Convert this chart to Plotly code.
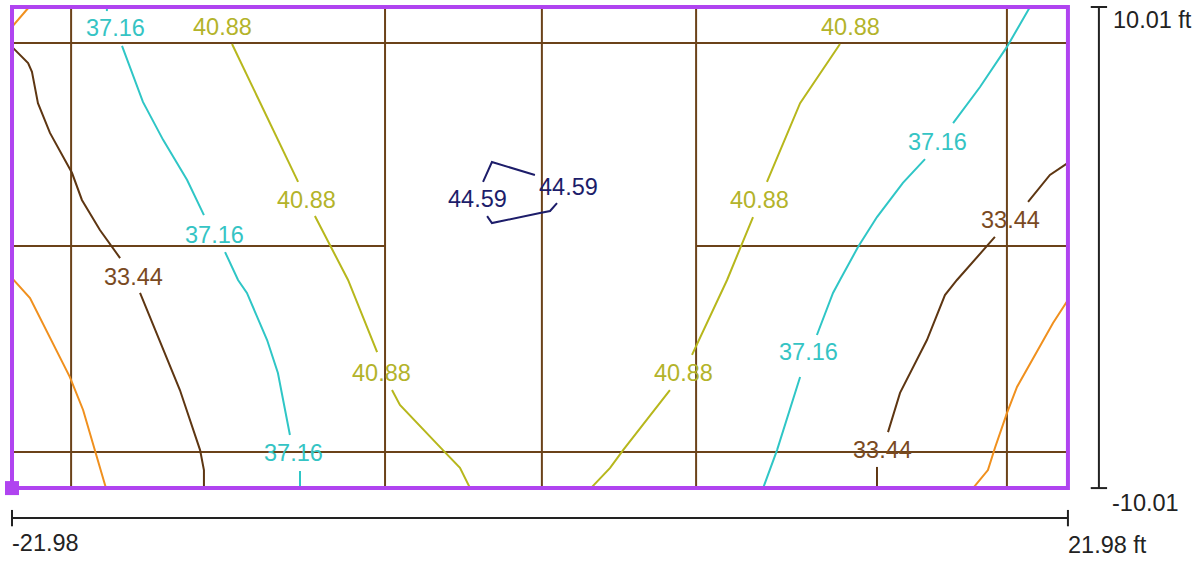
import plotly.graph_objects as go

# ---- extents (ft) ----
x_min, x_max = -21.98, 21.98
y_min, y_max = -10.01, 10.01

# ---- grid lines (ft) ----
grid_x = [-19.52, -6.45, 0.08, 6.50, 19.44]
grid_y_full = [8.51, -8.51]
grid_y_mid = 0.06
grid_y_mid_segments = [(-21.98, -6.45), (6.50, 21.98)]

# ---- contour levels ----
levels = ["29.72", "33.44", "37.16", "40.88", "44.59"]
level_colors = ["#F0901E", "#5E3612", "#2FC6C6", "#B7B71C", "#1D1D6A"]
label_colors = ["#F0901E", "#7A4A1F", "#35C4C4", "#B3B32A", "#1D1D6A"]

# 29.72 (orange)
c1_x = [-21.98, -21.27, None,
        -21.98, -21.23, -19.57, -19.02, -18.07, None,
        21.98, 21.36, 19.86, 19.44, 18.94, 18.65, 18.03]
c1_y = [9.18, 10.01, None,
        -1.27, -2.10, -5.39, -6.76, -10.01, None,
        -2.18, -3.14, -5.80, -6.89, -8.34, -9.26, -10.01]

# 33.44 (dark brown)
c2_x = [-21.98, -21.31, -21.15, -20.90, -20.40, -19.48, -19.07, -18.32, -17.48, None,
        -16.65, -14.99, -14.15, -13.99, -13.99, None,
        21.98, 21.23, 20.32, None,
        18.94, 17.36, 16.86, 16.11, 14.99, 14.49, None,
        14.03, 14.03]
c2_y = [8.35, 7.68, 7.31, 6.01, 4.77, 3.10, 1.98, 0.73, -0.44, None,
        -1.89, -5.93, -8.43, -9.26, -10.01, None,
        3.52, 3.02, 1.90, None,
        0.44, -1.35, -1.98, -3.85, -6.05, -7.68, None,
        -9.13, -10.01]

# 37.16 (cyan)
c3_x = [-18.03, -18.03, None,
        -17.40, -16.53, -15.69, -14.69, -13.99, None,
        -13.11, -12.57, -12.20, -11.36, -10.91, -10.41, None,
        -9.99, -9.99, None,
        20.40, 19.44, 18.32, 17.20, None,
        16.03, 15.11, 14.03, 13.24, 12.49, 12.20, 11.53, None,
        10.83, 9.87, 9.29]
c3_y = [10.01, 9.84, None,
        8.39, 6.06, 4.48, 2.81, 1.35, None,
        -0.19, -1.35, -1.89, -3.85, -5.22, -7.80, None,
        -9.30, -10.01, None,
        10.01, 8.35, 6.68, 5.18, None,
        3.68, 2.69, 1.27, 0.02, -1.35, -1.89, -3.64, None,
        -5.39, -8.43, -10.01]

# 40.88 (olive)
c4_x = [-12.82, -10.07, None,
        -9.37, -7.99, -6.78, None,
        -6.16, -5.83, -4.04, -3.33, -2.91, None,
        2.12, 2.92, 3.46, 5.41, None,
        6.33, 7.79, 8.87, None,
        9.45, 10.83, 12.49]
c4_y = [8.47, 2.73, None,
        1.31, -1.35, -4.35, None,
        -5.93, -6.55, -8.43, -9.17, -10.01, None,
        -10.01, -9.17, -8.43, -5.93, None,
        -4.47, -1.35, 1.27, None,
        2.73, 6.01, 8.47]

# 44.59 (navy)
c5_x = [-2.37, -2.00, -0.21, None,
        -2.20, -2.00, 0.00, 0.42, 0.71]
c5_y = [2.73, 3.56, 3.02, None,
        1.31, 1.02, 1.44, 1.52, 1.85]

contour_x = [c1_x, c2_x, c3_x, c4_x, c5_x]
contour_y = [c1_y, c2_y, c3_y, c4_y, c5_y]

# ---- contour labels ----
lab_level = [1, 1, 1, 2, 2, 2, 2, 2, 3, 3, 3, 3, 3, 3, 4, 4]
lab_x = [-16.94, 19.57, 14.24,
         -17.69, -13.53, -10.28, 16.57, 11.16,
         -13.20, -9.70, -6.58, 5.96, 9.16, 12.91,
         -2.62, 1.17]
lab_y = [-1.23, 1.15, -8.43,
         9.14, 0.52, -8.55, 4.39, -4.35,
         9.18, 1.98, -5.22, -5.22, 1.98, 9.18,
         2.02, 2.52]

# ---- dimension labels ----
dim_text_x = ["-21.98", "21.98 ft"]
dim_text_y = ["10.01 ft", "-10.01"]

# style constants
FONT = "Liberation Sans, Arial, sans-serif"
FS = 23.5
GRID_COLOR = "#6B4219"
BORDER_COLOR = "#B044F0"
DIM_COLOR = "#222222"
dim_off_y = -11.26   # bottom dimension line
dim_off_x = 23.27    # right dimension line
tick_half = 0.34

fig = go.Figure()

# grid
gx, gy = [], []
for x in grid_x:
    gx += [x, x, None]
    gy += [y_min, y_max, None]
for y in grid_y_full:
    gx += [x_min, x_max, None]
    gy += [y, y, None]
for a, b in grid_y_mid_segments:
    gx += [a, b, None]
    gy += [grid_y_mid, grid_y_mid, None]
fig.add_trace(go.Scatter(x=gx, y=gy, mode="lines",
                         line=dict(color=GRID_COLOR, width=2),
                         hoverinfo="skip", showlegend=False))

# contours
for i in range(len(levels)):
    fig.add_trace(go.Scatter(x=contour_x[i], y=contour_y[i], mode="lines",
                             line=dict(color=level_colors[i], width=2),
                             name=levels[i], showlegend=False))

# border
fig.add_trace(go.Scatter(x=[x_min, x_max, x_max, x_min, x_min],
                         y=[y_min, y_min, y_max, y_max, y_min],
                         mode="lines", line=dict(color=BORDER_COLOR, width=4),
                         hoverinfo="skip", showlegend=False))
fig.add_trace(go.Scatter(x=[x_min], y=[y_min], mode="markers",
                         marker=dict(symbol="square", size=14, color=BORDER_COLOR),
                         hoverinfo="skip", showlegend=False))

# dimension lines
dx = [x_min, x_max, None, x_min, x_min, None, x_max, x_max, None,
      dim_off_x, dim_off_x, None,
      dim_off_x - tick_half, dim_off_x + tick_half, None,
      dim_off_x - tick_half, dim_off_x + tick_half]
dy = [dim_off_y, dim_off_y, None,
      dim_off_y - tick_half, dim_off_y + tick_half, None,
      dim_off_y - tick_half, dim_off_y + tick_half, None,
      y_min, y_max, None, y_max, y_max, None, y_min, y_min]
fig.add_trace(go.Scatter(x=dx, y=dy, mode="lines",
                         line=dict(color=DIM_COLOR, width=2),
                         hoverinfo="skip", showlegend=False))

annotations = []
for lv, x, y in zip(lab_level, lab_x, lab_y):
    annotations.append(dict(x=x, y=y, text=levels[lv], showarrow=False,
                            xanchor="center", yanchor="middle",
                            font=dict(family=FONT, size=FS, color=label_colors[lv])))
annotations.append(dict(x=x_min, y=dim_off_y, text=dim_text_x[0], showarrow=False,
                        xanchor="left", yanchor="middle", yshift=-25, xshift=-2,
                        font=dict(family=FONT, size=FS, color=DIM_COLOR)))
annotations.append(dict(x=x_max, y=dim_off_y, text=dim_text_x[1], showarrow=False,
                        xanchor="left", yanchor="middle", yshift=-27, xshift=-2,
                        font=dict(family=FONT, size=FS, color=DIM_COLOR)))
annotations.append(dict(x=dim_off_x, y=y_max, text=dim_text_y[0], showarrow=False,
                        xanchor="left", yanchor="middle", yshift=-13, xshift=12,
                        font=dict(family=FONT, size=FS, color=DIM_COLOR)))
annotations.append(dict(x=dim_off_x, y=y_min, text=dim_text_y[1], showarrow=False,
                        xanchor="left", yanchor="middle", yshift=-15, xshift=11,
                        font=dict(family=FONT, size=FS, color=DIM_COLOR)))

fig.update_layout(
    width=1204, height=562,
    margin=dict(l=0, r=0, t=0, b=0, pad=0),
    paper_bgcolor="white", plot_bgcolor="white",
    xaxis=dict(range=[-22.48, 27.645], visible=False, fixedrange=True),
    yaxis=dict(range=[-13.086, 10.301], visible=False, fixedrange=True),
    annotations=annotations,
    showlegend=False,
)

fig.write_html("out.html",
               config={"displayModeBar": False, "staticPlot": True},
               post_script="document.body.style.margin='0';document.body.style.overflow='hidden';")
